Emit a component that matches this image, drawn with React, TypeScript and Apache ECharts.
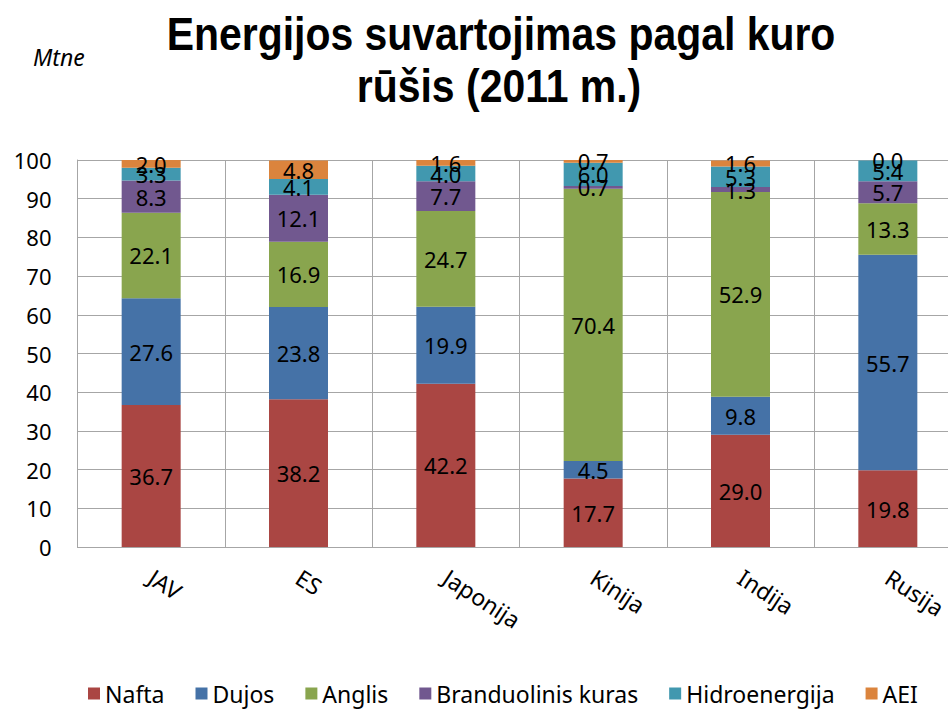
import React, { useEffect, useRef } from "react";
import * as echarts from "echarts";

const categories = ["JAV", "ES", "Japonija", "Kinija", "Indija", "Rusija"];
const nafta = [36.7, 38.2, 42.2, 17.7, 29.0, 19.8];
const dujos = [27.6, 23.8, 19.9, 4.5, 9.8, 55.7];
const anglis = [22.1, 16.9, 24.7, 70.4, 52.9, 13.3];
const branduolinis = [8.3, 12.1, 7.7, 0.7, 1.3, 5.7];
const hidro = [3.3, 4.1, 4.0, 6.0, 5.3, 5.4];
const aei = [2.0, 4.8, 1.6, 0.7, 1.6, 0.0];

const titleLines = ["Energijos suvartojimas pagal kuro", "rūšis (2011 m.)"];
const unitLabel = "Mtne";

const seriesDefs = [
  { name: "Nafta", data: nafta, color: "#AA4643" },
  { name: "Dujos", data: dujos, color: "#4572A7" },
  { name: "Anglis", data: anglis, color: "#89A54E" },
  { name: "Branduolinis kuras", data: branduolinis, color: "#71588F" },
  { name: "Hidroenergija", data: hidro, color: "#4198AF" },
  { name: "AEI", data: aei, color: "#DB843D" },
];

const FONT = "'Noto Sans', 'Open Sans', sans-serif";
const TITLE_FONT = "bold 46px 'Liberation Sans', Arial, sans-serif";

export default function App() {
  const ref = useRef<HTMLDivElement>(null);
  useEffect(() => {
    if (!ref.current) return;
    const chart = echarts.init(ref.current, undefined, { renderer: "svg" });
    chart.setOption({
      animation: false,
      backgroundColor: "#ffffff",
      graphic: [
        {
          type: "text",
          x: 501,
          y: 34,
          scaleX: 0.89,
          style: {
            text: titleLines[0],
            font: TITLE_FONT,
            fill: "#000",
            textAlign: "center",
            textVerticalAlign: "middle",
          },
        },
        {
          type: "text",
          x: 499,
          y: 86,
          scaleX: 0.89,
          style: {
            text: titleLines[1],
            font: TITLE_FONT,
            fill: "#000",
            textAlign: "center",
            textVerticalAlign: "middle",
          },
        },
        {
          type: "text",
          x: 33,
          y: 57,
          style: {
            text: unitLabel,
            font: "italic 23px 'Noto Sans', sans-serif",
            fill: "#000",
            textAlign: "left",
            textVerticalAlign: "middle",
          },
        },
      ],
      legend: {
        left: 83,
        bottom: 0,
        itemWidth: 12,
        itemHeight: 12,
        itemGap: 31,
        icon: "rect",
        textStyle: { fontFamily: FONT, fontSize: 23, color: "#000" },
        data: seriesDefs.map((s) => s.name),
      },
      grid: { left: 77.5, right: 3.5, top: 160, bottom: 163 },
      xAxis: {
        type: "category",
        data: categories,
        axisLine: { lineStyle: { color: "#a6a6a6" } },
        axisTick: { show: false },
        splitLine: { show: true, lineStyle: { color: "#a6a6a6" } },
        axisLabel: {
          rotate: -33,
          margin: 28,
          fontFamily: FONT,
          fontSize: 23,
          color: "#000",
        },
      },
      yAxis: {
        type: "value",
        min: 0,
        max: 100,
        interval: 10,
        axisLine: { show: true, lineStyle: { color: "#a6a6a6" } },
        axisTick: { show: false },
        splitLine: { show: true, lineStyle: { color: "#a6a6a6" } },
        axisLabel: { fontFamily: FONT, fontSize: 22, color: "#000", margin: 26 },
      },
      series: seriesDefs.map((s) => ({
        name: s.name,
        type: "bar",
        stack: "total",
        barWidth: 59,
        data: s.data,
        itemStyle: { color: s.color },
        label: {
          show: true,
          position: "inside",
          fontFamily: FONT,
          fontSize: 22,
          color: "#000",
          formatter: (p: any) => Number(p.value).toFixed(1),
        },
      })),
    });
    return () => chart.dispose();
  }, []);
  return (
    <div
      style={{
        position: "absolute",
        left: 0,
        top: 0,
        width: 948,
        height: 710,
        overflow: "hidden",
        background: "#fff",
      }}
    >
      <div ref={ref} style={{ width: 965, height: 710 }} />
    </div>
  );
}
